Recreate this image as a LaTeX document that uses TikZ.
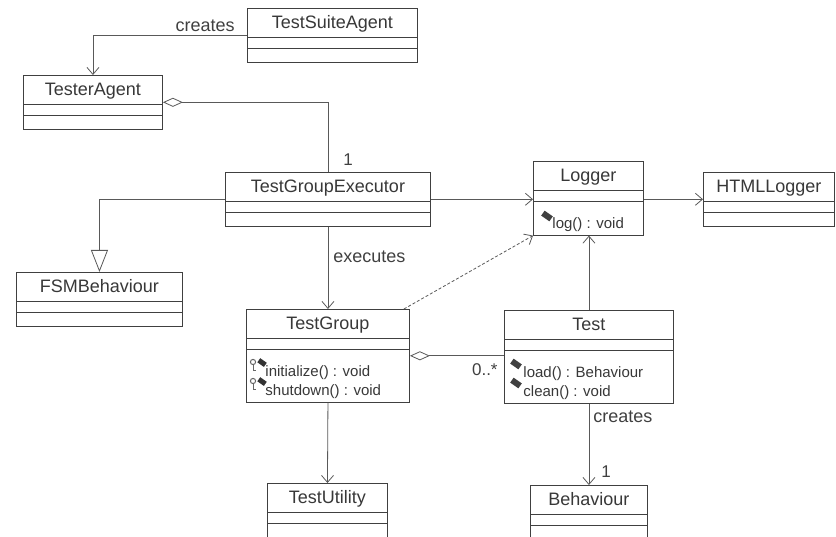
\documentclass[tikz,border=0pt]{standalone}
\usepackage{fontspec}
\setmainfont{Liberation Sans}
\usetikzlibrary{shapes.multipart,arrows.meta,calc}

% class box parts
\newcommand{\clsname}[2]{\makebox[#1pt]{\rule[-8pt]{0pt}{28pt}#2}}
\newcommand{\noattr}{\rule{0pt}{10pt}}
\newcommand{\noops}{\rule{0pt}{13pt}}
\newcommand{\opers}[2]{\parbox{#1pt}{\fontsize{15}{19}\selectfont\rule{0pt}{27pt}#2\rule[-6pt]{0pt}{6pt}}}
\newcommand{\op}[1]{\hspace*{19pt}#1}

\tikzset{
  classbox/.style={rectangle split, rectangle split parts=3, draw=black!75,
    line width=0.9pt, fill=white, inner xsep=0pt, inner ysep=0pt,
    anchor=north west, text=black!78, font=\fontsize{18}{20}\selectfont},
  line/.style={draw=black!65, line width=0.8pt},
  assoc/.style={line, -{Straight Barb[length=7pt,width=12pt]}},
  aggr/.style={line, {Diamond[open,length=20pt,width=9pt,fill=white]}-},
  inherit/.style={line, -{Triangle[open,length=22pt,width=17pt,fill=white]}},
  uses/.style={assoc, dash pattern=on 3pt off 2pt},
  lbl/.style={inner sep=2pt, text=black!75, font=\fontsize{18}{20}\selectfont},
  mult/.style={inner sep=2pt, text=black!75, font=\fontsize{17}{19}\selectfont},
  pubop/.pic={\fill[black!75, rotate=-35] (-5,-3) rectangle (5,3);},
  protop/.pic={
    \draw[black!60, line width=1pt] (-5,-2) circle (2.6);
    \draw[black!60, line width=1pt] (-5,0.6) -- (-5,6.5) -- (-2.5,6.5);
    \fill[black!80, rotate=-35] (-1.5,-6) rectangle (6.5,-1);},
}

\begin{document}
\begin{tikzpicture}[x=1pt,y=-1pt]
  \useasboundingbox (0,0) rectangle (836,537);

  % classes
  \node[classbox] (suite) at (247,8) {\clsname{170}{TestSuiteAgent}\nodepart{two}\noattr\nodepart{three}\noops};
  \node[classbox] (tester) at (23,75) {\clsname{139}{TesterAgent}\nodepart{two}\noattr\nodepart{three}\noops};
  \node[classbox] (tge) at (225,172) {\clsname{205}{TestGroupExecutor}\nodepart{two}\noattr\nodepart{three}\noops};
  \node[classbox] (logger) at (533,161) {\clsname{110}{Logger}\nodepart{two}\noattr
    \nodepart{three}\opers{110}{\op{log() : void}}};
  \node[classbox] (html) at (703,172) {\clsname{131}{HTMLLogger}\nodepart{two}\noattr\nodepart{three}\noops};
  \node[classbox] (fsm) at (16,272) {\clsname{166}{FSMBehaviour}\nodepart{two}\noattr\nodepart{three}\noops};
  \node[classbox] (grp) at (246,309) {\clsname{163}{TestGroup}\nodepart{two}\noattr
    \nodepart{three}\opers{163}{\op{initialize() : void}\\\op{shutdown() : void}}};
  \node[classbox] (test) at (504,310) {\clsname{169}{Test}\nodepart{two}\noattr
    \nodepart{three}\opers{169}{\op{load() : Behaviour}\\\op{clean() : void}}};
  \node[classbox] (util) at (267,483) {\clsname{120}{TestUtility}\nodepart{two}\noattr\nodepart{three}\noops};
  \node[classbox] (beh) at (530,485) {\clsname{117}{Behaviour}\nodepart{two}\noattr\nodepart{three}\noops};

  % operation icons
  \pic at ($(logger.north west)+(14,55)$) {pubop};
  \pic at ($(grp.north west)+(12,55)$) {protop};
  \pic at ($(grp.north west)+(12,74)$) {protop};
  \pic at ($(test.north west)+(12,54)$) {pubop};
  \pic at ($(test.north west)+(12,73)$) {pubop};

  % connectors
  \draw[assoc] (suite.west) -| (tester.north) node[lbl, pos=0.136, above=1pt] {creates};
  \draw[aggr] (tester.east) -| (tge.north) node[mult, pos=0.915, right=13pt] {1};
  \draw[inherit] (tge.west) -| (fsm.north);
  \draw[assoc] (tge.east) -- (tge.east -| logger.west);
  \draw[assoc] (logger.east |- html.west) -- (html.west);
  \draw[assoc] (tge.south) -- (grp.north) node[lbl, pos=0.37, right=3pt] {executes};
  \draw[uses] ([xshift=-6pt]grp.north east) -- (logger.south west);
  \draw[assoc] (test.north) -- (test.north |- logger.south);
  \draw[aggr] (grp.east) -- (grp.east -| test.west)
    node[mult, pos=1, anchor=north east, xshift=-4pt, yshift=-5pt] {0..*};
  \draw[assoc] (test.south) -- (beh.north)
    node[lbl, pos=0.16, right=2pt] {creates}
    node[mult, pos=0.83, right=10pt] {1};
  \draw[assoc] (grp.south) -- (util.north);
\end{tikzpicture}
\end{document}
